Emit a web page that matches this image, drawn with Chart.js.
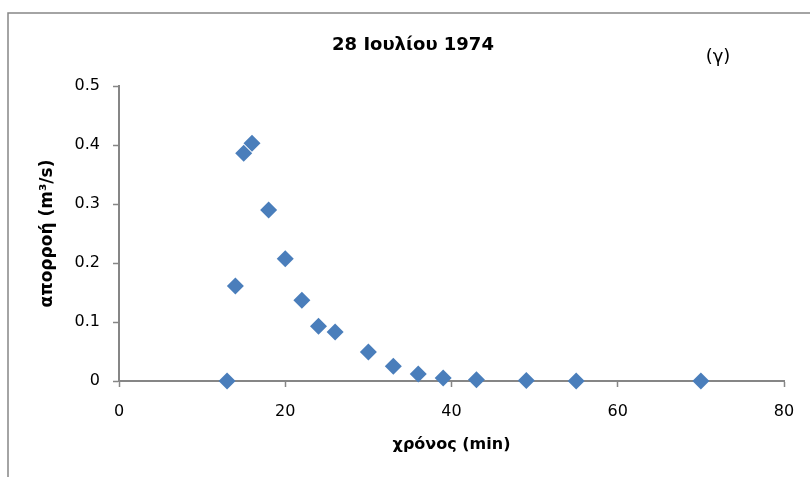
<!DOCTYPE html>
<html>
<head>
<meta charset="utf-8">
<script src="https://cdn.jsdelivr.net/npm/chart.js@4"></script>
<style>
  html, body { margin: 0; padding: 0; background: #fff; }
  #wrap { position: relative; width: 810px; height: 477px; }
</style>
</head>
<body>
<div id="wrap"><canvas id="apo"></canvas></div>
<script>
// time (min) and runoff (m3/s)
var xronos = [13, 14, 15, 16, 18, 20, 22, 24, 26, 30, 33, 36, 39, 43, 49, 55, 70];
var aporroi = [0, 0.161, 0.386, 0.403, 0.29, 0.207, 0.137, 0.093, 0.083, 0.049, 0.025, 0.012, 0.005, 0.002, 0.001, 0, 0];
var titlos = "28 Ιουλίου 1974";
var simeiosi = "(γ)";
var xTitlos = "χρόνος (min)";
var yTitlos = "απορροή (m³/s)";

var fontFam = "'DejaVu Sans', 'Liberation Sans', sans-serif";
var axisGrey = "#868686";

var points = [];
for (var i = 0; i < xronos.length; i++) {
    points.push({x: xronos[i], y: aporroi[i]});
}

// frame + title texts drawn on the canvas
var framePlugin = {
    id: 'frame',
    beforeDraw: function (chart) {
        var ctx = chart.ctx;
        ctx.save();
        ctx.strokeStyle = axisGrey;
        ctx.lineWidth = 1.5;
        ctx.beginPath();
        ctx.moveTo(8, 477);
        ctx.lineTo(8, 13);
        ctx.lineTo(810, 13);
        ctx.stroke();
        ctx.restore();
    },
    afterDraw: function (chart) {
        var ctx = chart.ctx;
        ctx.save();
        ctx.fillStyle = "#000";
        ctx.textAlign = "center";
        ctx.textBaseline = "middle";
        ctx.font = "bold 18px " + fontFam;
        ctx.fillText(titlos, 413, 45);
        ctx.font = "18px " + fontFam;
        ctx.fillText(simeiosi, 718, 57);
        ctx.restore();
    }
};

var ctx = document.getElementById("apo").getContext("2d");
new Chart(ctx, {
    type: 'scatter',
    data: {
        datasets: [{
            label: 'απορροή',
            data: points,
            pointStyle: 'rectRot',
            pointRadius: 8.5,
            pointHoverRadius: 8.5,
            backgroundColor: '#4a7ebb',
            borderColor: '#4a7ebb',
            borderWidth: 0,
            clip: false
        }]
    },
    options: {
        responsive: true,
        maintainAspectRatio: false,
        animation: false,
        layout: {
            padding: {top: 86, left: 8, right: 26, bottom: 0}
        },
        plugins: {
            legend: {display: false},
            tooltip: {enabled: false}
        },
        scales: {
            x: {
                type: 'linear',
                min: 0,
                max: 80,
                ticks: {
                    stepSize: 20,
                    padding: 15,
                    color: '#000',
                    font: {family: fontFam, size: 16}
                },
                grid: {
                    drawOnChartArea: false,
                    color: axisGrey,
                    tickLength: 6,
                    tickWidth: 1.5
                },
                border: {color: axisGrey, width: 2},
                title: {
                    display: true,
                    text: xTitlos,
                    color: '#000',
                    font: {family: fontFam, size: 16, weight: 'bold'},
                    padding: {top: 0, bottom: 23}
                },
                afterFit: function (scale) { scale.height = 96; }
            },
            y: {
                type: 'linear',
                min: 0,
                max: 0.5,
                ticks: {
                    stepSize: 0.1,
                    padding: 13,
                    color: '#000',
                    font: {family: fontFam, size: 16}
                },
                grid: {
                    drawOnChartArea: false,
                    color: axisGrey,
                    tickLength: 6,
                    tickWidth: 1.5
                },
                border: {color: axisGrey, width: 2},
                title: {
                    display: true,
                    text: yTitlos,
                    color: '#000',
                    font: {family: fontFam, size: 17, weight: 'bold'},
                    padding: {top: 29, bottom: 0}
                },
                afterFit: function (scale) { scale.width = 111; }
            }
        }
    },
    plugins: [framePlugin]
});
</script>
</body>
</html>
